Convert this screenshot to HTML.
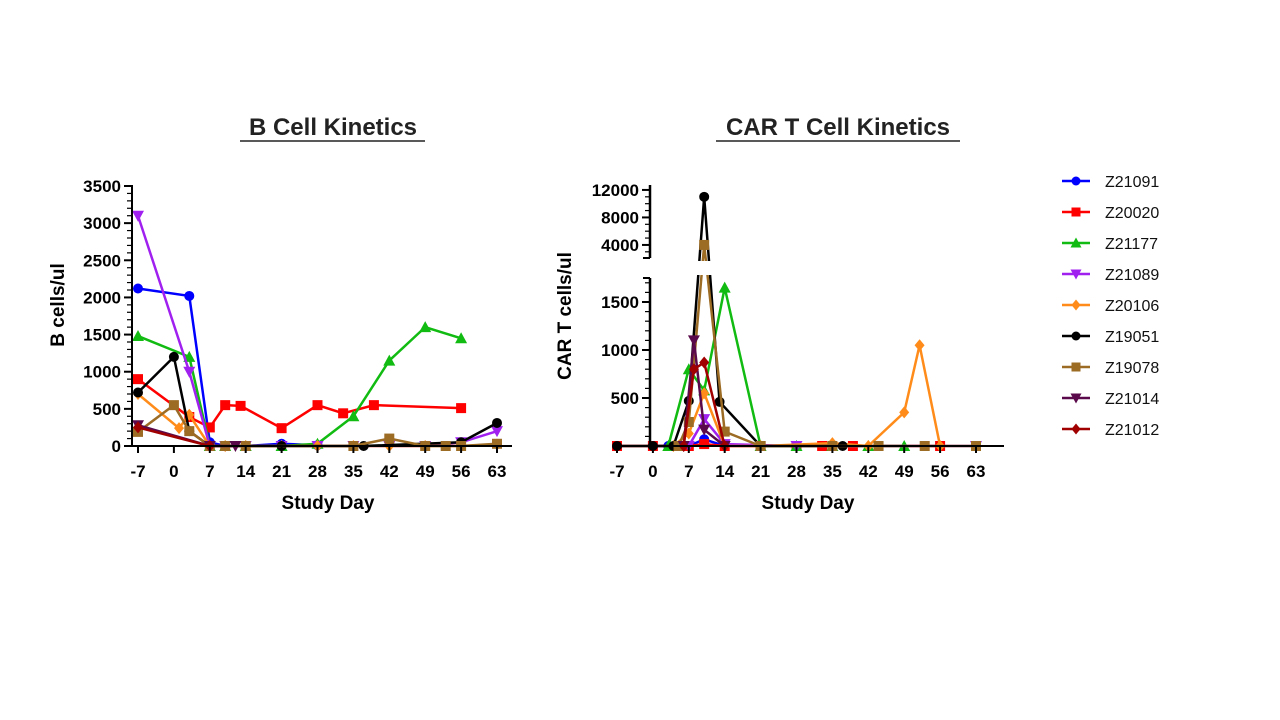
<!DOCTYPE html>
<html><head><meta charset="utf-8"><style>
html,body{margin:0;padding:0;background:#fff;}
svg{display:block;font-family:"Liberation Sans",Arial,sans-serif;}
</style></head><body>
<svg id="svg" width="1280" height="720" viewBox="0 0 1280 720" xmlns="http://www.w3.org/2000/svg">
<text x="333" y="135" font-size="24" font-weight="bold" text-anchor="middle" fill="#222">B Cell Kinetics</text>
<line x1="240" y1="141" x2="425" y2="141" stroke="#222" stroke-width="1.5"/>
<text x="838" y="135" font-size="24" font-weight="bold" text-anchor="middle" fill="#222">CAR T Cell Kinetics</text>
<line x1="716" y1="141" x2="960" y2="141" stroke="#222" stroke-width="1.5"/>
<g id="left"></g><g id="right"></g><g id="legend"></g>
</svg>
<script>
const NS="http://www.w3.org/2000/svg";
const svg=document.getElementById('svg');
const seriesNames=["Z21091","Z20020","Z21177","Z21089","Z20106","Z19051","Z19078","Z21014","Z21012"];
const seriesColors=["#0000ff","#ff0000","#11bb11","#a020f0","#ff8c1a","#000000","#9c6b24","#5a0a4a","#a00000"];
const seriesMarkers=["circle","square","tri","trid","diamond","circle","square","trid","diamond"];
const xTicks=[-7,0,7,14,21,28,35,42,49,56,63];
// B cell data: [day, value]
const bDays=[
 [-7,3,7,10,14,21,28],
 [-7,3,7,10,13,21,28,33,39,56],
 [-7,3,7,10,14,21,28,35,42,49,56],
 [-7,3,7,10,14,21,28,35,42,49,56,63],
 [-7,1,3,7,10,14,21,28,35,42,49,56,63],
 [-7,0,3,7,14,21,37,56,63],
 [-7,0,3,7,10,14,35,42,49,53,56,63],
 [-7,7,12],
 [-7,7]
];
const bVals=[
 [2120,2020,50,0,0,30,10],
 [900,390,250,550,540,240,550,440,550,510],
 [1480,1200,0,0,0,0,30,400,1150,1600,1450],
 [3100,1000,0,0,0,0,0,0,0,0,50,200],
 [700,240,420,0,0,0,0,0,0,0,0,0,20],
 [720,1200,200,0,0,0,0,50,310],
 [190,550,200,0,0,0,0,100,0,0,0,30],
 [280,0,0],
 [250,0]
];
const cDays=[
 [0,3,7,10,14,21,28],
 [-7,0,7,10,14,21,28,33,39,56],
 [3,7,10,14,21,28,35,42,49],
 [7,10,14,28,63],
 [4,7,10,14,21,35,42,49,52,56],
 [-7,0,4,7,10,13,21,37],
 [5,7,10,14,21,35,44,53,63],
 [6,8,10,14],
 [6,8,10,14]
];
const cVals=[
 [0,0,0,70,0,0,0],
 [0,0,0,20,0,0,0,0,0,0],
 [0,800,580,1650,0,0,0,0,0],
 [0,280,20,0,0],
 [0,130,550,0,0,30,0,350,1050,0],
 [0,0,0,470,11000,460,0,0],
 [0,250,4000,150,0,0,0,0,0],
 [0,1100,170,0],
 [0,800,870,0]
];
function el(tag,attrs,parent){const e=document.createElementNS(NS,tag);for(const k in attrs)e.setAttribute(k,attrs[k]);(parent||svg).appendChild(e);return e;}
function marker(g,shape,x,y,color,s){
 let m;
 if(shape==="circle") m=el('circle',{cx:x,cy:y,r:s,fill:color},g);
 else if(shape==="square") m=el('rect',{x:x-s,y:y-s,width:2*s,height:2*s,fill:color},g);
 else if(shape==="tri") m=el('polygon',{points:`${x},${y-s-1} ${x-s-1},${y+s} ${x+s+1},${y+s}`,fill:color},g);
 else if(shape==="trid") m=el('polygon',{points:`${x},${y+s+1} ${x-s-1},${y-s} ${x+s+1},${y-s}`,fill:color},g);
 else m=el('polygon',{points:`${x},${y-s-1} ${x+s},${y} ${x},${y+s+1} ${x-s},${y}`,fill:color},g);
 return m;
}
function drawXAxis(g,x0,xFn,axisEnd){
 el('line',{x1:x0,y1:446,x2:axisEnd,y2:446,stroke:'#000','stroke-width':2},g);
 xTicks.forEach(t=>{
  const x=xFn(t);
  el('line',{x1:x,y1:446,x2:x,y2:453,stroke:'#000','stroke-width':2},g);
  const tx=el('text',{x:x,y:477,'font-size':17,'font-weight':'bold','text-anchor':'middle'},g);
  
  
  tx.textContent=t;
 });
}
function drawSeries(g,days,vals,xFn,yFn,clip){
 days.forEach((ds,i)=>{
  const sg=el('g',{},g);
  
  
  const pts=ds.map((d,j)=>[xFn(d),yFn(vals[i][j])]);
  el('polyline',{points:pts.map(p=>p.join(',')).join(' '),fill:'none',stroke:seriesColors[i],'stroke-width':2.5},sg);
  pts.forEach(p=>{const m=marker(sg,seriesMarkers[i],p[0],p[1],seriesColors[i],5);
   
   });
 });
}
// LEFT
(function(){
 const g=document.getElementById('left');
 const xFn=d=>138+(d+7)*359/70;
 const yFn=v=>446-v*260/3500;
 drawSeries(g,bDays,bVals,xFn,yFn);
 el('line',{x1:132,y1:185,x2:132,y2:447,stroke:'#000','stroke-width':2},g);
 for(let v=0;v<=3500;v+=100){const y=yFn(v);const major=v%500===0;
  el('line',{x1:major?124:127,y1:y,x2:132,y2:y,stroke:'#000','stroke-width':major?2:1.2},g);
  if(major){const t=el('text',{x:121,y:y+6,'font-size':17,'font-weight':'bold','text-anchor':'end'},g);
   
   
   t.textContent=v;}}
 drawXAxis(g,131,xFn,512);
 const yl=el('text',{x:0,y:0,'font-size':19,'font-weight':'bold','text-anchor':'middle',transform:'translate(64,305) rotate(-90)'},g);
 
 
 yl.textContent='B cells/ul';
 const xl=el('text',{x:328,y:509,'font-size':19,'font-weight':'bold','text-anchor':'middle'},g);
 
 
 xl.textContent='Study Day';
})();
// RIGHT
(function(){
 const g=document.getElementById('right');
 const xFn=d=>617+(d+7)*359/70;
 const yFn=v=>{
  if(v<=1750) return 446-v*0.096;
  if(v>=2100) return 258-(v-2100)*27.5/4000;
  return 278-(v-1750)*20/350;
 };
 drawSeries(g,cDays,cVals,xFn,yFn);
 el('rect',{x:600,y:261,width:420,height:14,fill:'#fff'},g);
 el('line',{x1:650,y1:278,x2:650,y2:447,stroke:'#000','stroke-width':2.5},g);
 el('line',{x1:643,y1:278,x2:650,y2:278,stroke:'#000','stroke-width':2},g);
 for(let v=100;v<=1700;v+=100){const y=yFn(v);const major=v%500===0;
  el('line',{x1:major?642:645,y1:y,x2:650,y2:y,stroke:'#000','stroke-width':major?2:1.2},g);
  if(major){const t=el('text',{x:639,y:y+6,'font-size':17,'font-weight':'bold','text-anchor':'end'},g);
   
   
   t.textContent=v;}}
 el('line',{x1:650,y1:185,x2:650,y2:258,stroke:'#000','stroke-width':2.5},g);
 el('line',{x1:643,y1:258,x2:650,y2:258,stroke:'#000','stroke-width':2},g);
 for(let v=3000;v<=12000;v+=1000){const y=yFn(v);const major=v%4000===0;
  el('line',{x1:major?642:645,y1:y,x2:650,y2:y,stroke:'#000','stroke-width':major?2:1.2},g);
  if(major){const t=el('text',{x:639,y:y+6,'font-size':17,'font-weight':'bold','text-anchor':'end'},g);
   
   
   t.textContent=v;}}
 drawXAxis(g,650,xFn,1004);
 const yl=el('text',{x:0,y:0,'font-size':19,'font-weight':'bold','text-anchor':'middle',transform:'translate(571,316) rotate(-90)'},g);
 
 
 yl.textContent='CAR T cells/ul';
 const xl=el('text',{x:808,y:509,'font-size':19,'font-weight':'bold','text-anchor':'middle'},g);
 
 
 xl.textContent='Study Day';
})();
// LEGEND
(function(){
 const g=document.getElementById('legend');
 seriesNames.forEach((n,i)=>{
  const y=181+i*31;
  const eg=el('g',{},g);
  
  
  el('line',{x1:1062,y1:y,x2:1090,y2:y,stroke:seriesColors[i],'stroke-width':2.5},eg);
  marker(eg,seriesMarkers[i],1076,y,seriesColors[i],4.5);
  const t=el('text',{x:1105,y:y+6,'font-size':16,fill:'#111'},eg);
  t.textContent=n;
 });
})();
</script>
</body></html>
